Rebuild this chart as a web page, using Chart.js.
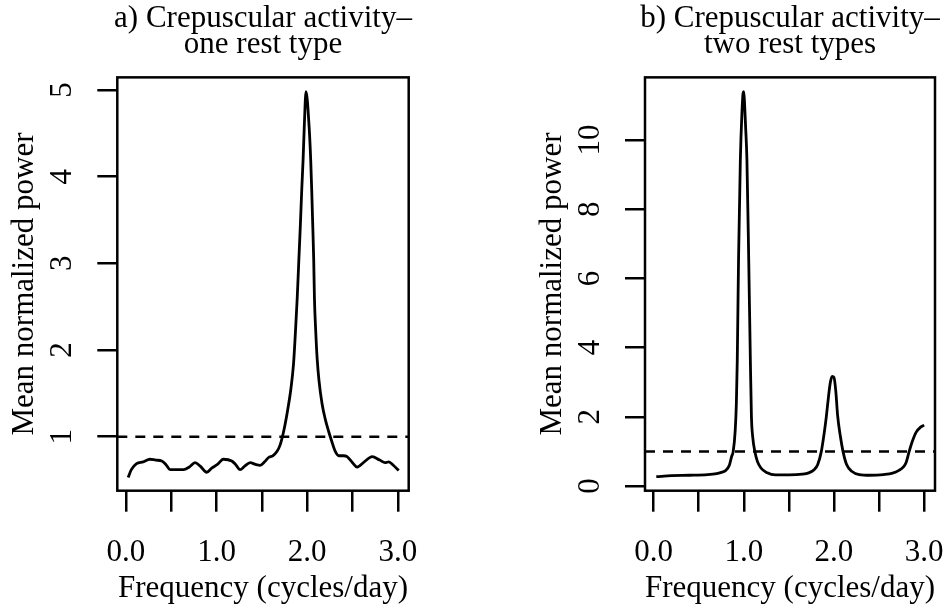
<!DOCTYPE html>
<html>
<head>
<meta charset="utf-8">
<script src="https://cdn.jsdelivr.net/npm/chart.js@4/dist/chart.umd.min.js"></script>
<style>
  html, body { margin: 0; padding: 0; background: #fff; }
  #wrap { position: relative; width: 949px; height: 613px; overflow: hidden; background: #fff; }
  canvas { position: absolute; top: 0; }
</style>
</head>
<body>
<div id="wrap">
  <canvas id="panelA" width="526" height="613" style="left:0px"></canvas>
  <canvas id="panelB" width="632" height="613" style="left:474px"></canvas>
</div>
<script>
// panel a) one rest type
const freqA = [0.025, 0.06, 0.118, 0.19, 0.265, 0.33, 0.395, 0.44, 0.49, 0.56, 0.635, 0.70, 0.763, 0.82, 0.892, 0.95, 1.01, 1.076, 1.168, 1.21,
  1.26, 1.31, 1.371, 1.43, 1.48, 1.53, 1.574, 1.62, 1.666, 1.70, 1.74, 1.78, 1.82, 1.85, 1.87, 1.89, 1.908, 1.925, 1.94, 1.955,
  1.968, 1.987, 2.021, 2.039, 2.051, 2.062, 2.072, 2.08, 2.095, 2.11, 2.13, 2.164, 2.2, 2.237, 2.27, 2.31, 2.348, 2.40, 2.44, 2.50,
  2.55, 2.63, 2.717, 2.80, 2.86, 2.90, 2.95, 3.01];
const powerA = [0.53, 0.62, 0.69, 0.71, 0.74, 0.73, 0.72, 0.68, 0.62, 0.62, 0.62, 0.65, 0.70, 0.66, 0.59, 0.64, 0.68, 0.74, 0.72, 0.68,
  0.62, 0.66, 0.70, 0.68, 0.67, 0.71, 0.76, 0.78, 0.83, 0.90, 1.06, 1.28, 1.55, 1.85, 2.2, 2.6, 3.04, 3.45, 3.85, 4.2,
  4.58, 4.98, 4.58, 4.19, 3.81, 3.42, 3.04, 2.6, 2.2, 1.9, 1.65, 1.38, 1.2, 1.06, 0.95, 0.83, 0.78, 0.78, 0.77, 0.70,
  0.65, 0.71, 0.77, 0.73, 0.70, 0.71, 0.67, 0.61];

// panel b) two rest types
const freqB = [0.03, 0.2, 0.4, 0.6, 0.7, 0.76, 0.80, 0.84, 0.865, 0.883, 0.905, 0.918, 0.928, 0.942, 0.962, 0.98, 0.992, 1.0, 1.008, 1.02,
  1.035, 1.055, 1.073, 1.085, 1.10, 1.123, 1.15, 1.19, 1.26, 1.35, 1.5, 1.65, 1.72, 1.78, 1.82, 1.86, 1.89, 1.915, 1.94, 1.96,
  1.98, 2.0, 2.02, 2.04, 2.07, 2.10, 2.14, 2.2, 2.28, 2.4, 2.55, 2.65, 2.72, 2.77, 2.80, 2.834, 2.87, 2.91, 2.96, 3.0];
const powerB = [0.27, 0.30, 0.31, 0.33, 0.36, 0.40, 0.45, 0.60, 0.85, 1.0, 1.6, 2.4, 3.64, 6.53, 9.42, 10.8, 11.35, 11.4, 11.1, 10.4,
  9.42, 6.53, 3.64, 2.0, 1.4, 1.0, 0.72, 0.52, 0.38, 0.32, 0.32, 0.34, 0.38, 0.47, 0.62, 1.0, 1.5, 2.0, 2.6, 3.0,
  3.17, 3.14, 2.75, 2.05, 1.45, 1.0, 0.62, 0.42, 0.33, 0.31, 0.33, 0.37, 0.45, 0.55, 0.68, 1.0, 1.3, 1.55, 1.7, 1.76];

const threshold = 1;

const xTickValues = [0, 0.5, 1, 1.5, 2, 2.5, 3];
const xTickLabels = ["0.0", "", "1.0", "", "2.0", "", "3.0"];
const yTicksA = [1, 2, 3, 4, 5];
const yTicksB = [0, 2, 4, 6, 8, 10];

const titleA = ["a) Crepuscular activity\u2013", "one rest type"];
const titleB = ["b) Crepuscular activity\u2013", "two rest types"];
const xTitle = "Frequency (cycles/day)";
const yTitle = "Mean normalized power";

const FONT = "'Liberation Serif', 'Times New Roman', serif";
Chart.defaults.font.family = FONT;
Chart.defaults.color = "#000";

// box around the plot region
const boxPlugin = {
  id: "plotBox",
  afterDraw(chart) {
    const { ctx, chartArea: a } = chart;
    ctx.save();
    ctx.lineWidth = 2.5;
    ctx.strokeStyle = "#000";
    ctx.strokeRect(a.left, a.top, a.right - a.left, a.bottom - a.top);
    ctx.restore();
  },
};

function makePanel(canvasId, p) {
  const xMin = -0.095, xMax = 3.12;
  const curve = p.freq.map((f, i) => ({ x: f, y: p.power[i] }));
  const dashed = [{ x: xMin, y: threshold }, { x: xMax, y: threshold }];

  return new Chart(document.getElementById(canvasId), {
    type: "line",
    data: {
      datasets: [
        {
          data: curve,
          borderColor: "#000",
          borderWidth: 2.8,
          pointRadius: 0,
          fill: false,
          cubicInterpolationMode: "monotone",
        },
        {
          data: dashed,
          borderColor: "#000",
          borderWidth: 2.5,
          borderDash: [10, 8],
          pointRadius: 0,
          fill: false,
        },
      ],
    },
    options: {
      responsive: false,
      animation: false,
      events: [],
      layout: { autoPadding: false, padding: 0 },
      plugins: {
        legend: { display: false },
        tooltip: { enabled: false },
        title: {
          display: true,
          text: p.title,
          color: "#000",
          font: { family: FONT, size: 31, weight: "normal", lineHeight: 0.83 },
          padding: { top: 5.95, bottom: 19.95 },
        },
      },
      scales: {
        x: {
          type: "linear",
          bounds: "data",
          min: xMin,
          max: xMax,
          border: { display: false },
          grid: { drawOnChartArea: false, drawTicks: true, tickLength: 21, color: "#000", lineWidth: 2.5 },
          ticks: {
            autoSkip: false,
            minRotation: 0,
            maxRotation: 0,
            padding: 25.5,
            color: "#000",
            font: { family: FONT, size: 31, lineHeight: 1 },
            callback: (value, index) => xTickLabels[index],
          },
          title: {
            display: true,
            text: xTitle,
            color: "#000",
            font: { family: FONT, size: 31, lineHeight: 1 },
            padding: { top: 0, bottom: 8.7 },
          },
          afterBuildTicks: (axis) => { axis.ticks = xTickValues.map((v) => ({ value: v })); },
          afterFit: (axis) => { axis.height = 122.3; axis.paddingLeft = 0; axis.paddingRight = 0; },
        },
        y: {
          type: "linear",
          position: "left",
          bounds: "data",
          min: p.yMin,
          max: p.yMax,
          border: { display: false },
          grid: { drawOnChartArea: false, drawTicks: true, tickLength: 20, color: "#000", lineWidth: 2.5 },
          ticks: {
            autoSkip: false,
            minRotation: 90,
            maxRotation: 90,
            crossAlign: "center",
            padding: p.tickPad,
            color: "#000",
            font: { family: FONT, size: 31, lineHeight: 1 },
            callback: (value, index) => String(p.yTicks[index]),
          },
          title: {
            display: true,
            text: yTitle,
            color: "#000",
            font: { family: FONT, size: 31, lineHeight: 1 },
            padding: { top: p.titlePad, bottom: 0 },
          },
          afterBuildTicks: (axis) => { axis.ticks = p.yTicks.map((v) => ({ value: v })); },
          afterFit: (axis) => { axis.width = p.axisWidth; axis.paddingTop = 0; axis.paddingBottom = 0; },
        },
        // empty right-hand spacer so the title centres over the plot box
        spacer: {
          type: "linear",
          position: "right",
          display: true,
          border: { display: false },
          grid: { display: false, drawTicks: false },
          ticks: { display: false },
          title: { display: false },
          afterFit: (axis) => { axis.width = p.axisWidth; axis.paddingTop = 0; axis.paddingBottom = 0; },
        },
      },
    },
    plugins: [boxPlugin],
  });
}

makePanel("panelA", {
  freq: freqA, power: powerA, title: titleA, yTicks: yTicksA,
  yMin: 0.377, yMax: 5.146,
  axisWidth: 117.3, tickPad: 27.05, titlePad: 9,
});

makePanel("panelB", {
  freq: freqB, power: powerB, title: titleB, yTicks: yTicksB,
  yMin: -0.136, yMax: 11.81,
  axisWidth: 171, tickPad: 18.65, titlePad: 63.3,
});
</script>
</body>
</html>
